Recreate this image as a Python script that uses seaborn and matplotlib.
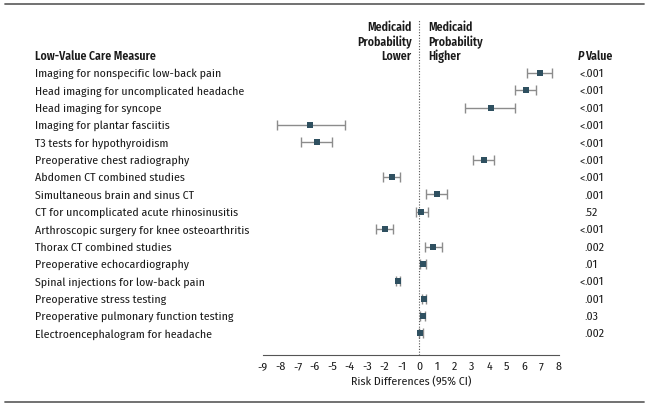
import pandas as pd
import numpy as np
import matplotlib.pyplot as plt
import seaborn as sns

# data
measures = [
    "Imaging for nonspecific low-back pain",
    "Head imaging for uncomplicated headache",
    "Head imaging for syncope",
    "Imaging for plantar fasciitis",
    "T3 tests for hypothyroidism",
    "Preoperative chest radiography",
    "Abdomen CT combined studies",
    "Simultaneous brain and sinus CT",
    "CT for uncomplicated acute rhinosinusitis",
    "Arthroscopic surgery for knee osteoarthritis",
    "Thorax CT combined studies",
    "Preoperative echocardiography",
    "Spinal injections for low-back pain",
    "Preoperative stress testing",
    "Preoperative pulmonary function testing",
    "Electroencephalogram for headache",
]
risk_diff = [6.9, 6.1, 4.1, -6.3, -5.9, 3.7, -1.6, 1.0, 0.1, -2.0, 0.8, 0.2, -1.25, 0.27, 0.18, 0.06]
ci_low = [6.2, 5.5, 2.6, -8.2, -6.8, 3.1, -2.1, 0.4, -0.2, -2.5, 0.3, 0.05, -1.35, 0.15, 0.05, -0.05]
ci_high = [7.6, 6.7, 5.5, -4.3, -5.0, 4.3, -1.1, 1.6, 0.5, -1.5, 1.3, 0.35, -1.12, 0.4, 0.3, 0.2]
p_values = ["<.001", "<.001", "<.001", "<.001", "<.001", "<.001", "<.001", ".001",
            ".52", "<.001", ".002", ".01", "<.001", ".001", ".03", ".002"]

df = pd.DataFrame({"measure": measures, "rd": risk_diff, "lo": ci_low, "hi": ci_high, "p": p_values})
df["row"] = np.arange(len(df))

sns.set_style("white")
plt.rcParams['font.family'] = ['Fira Sans Condensed', 'Roboto Condensed', 'DejaVu Sans']
plt.rcParams['font.size'] = 8.5
plt.rcParams['axes.unicode_minus'] = False
plt.rcParams['text.color'] = '#1a1a1a'
plt.rcParams['xtick.color'] = '#1a1a1a'
plt.rcParams['axes.labelcolor'] = '#1a1a1a'

W, H = 649, 410
fig = plt.figure(figsize=(W / 100, H / 100), dpi=100)

# axes placed in pixel terms of the reference
x0, x1 = 262.7, 558.7
y_top, y_bot = 20, 355.7
ax = fig.add_axes([x0 / W, 1 - y_bot / H, (x1 - x0) / W, (y_bot - y_top) / H])

row_px = 17.35
row0_px = 74
ax.set_xlim(-9, 8)
ax.set_ylim((y_bot - row0_px) / row_px, (y_top - row0_px) / row_px)

mark_col = "#2f5060"
ci_col = "#8c8c8c"
ax.hlines(df["row"], df["lo"], df["hi"], color=ci_col, lw=1)
ax.scatter(df["lo"], df["row"], marker="|", s=55, color=ci_col, lw=1)
ax.scatter(df["hi"], df["row"], marker="|", s=55, color=ci_col, lw=1)
sns.scatterplot(data=df, x="rd", y="row", marker="s", s=24, color=mark_col,
                edgecolor=mark_col, linewidth=0, ax=ax, zorder=3, legend=False)

ax.axvline(0, color="#555555", lw=0.8, ls=(0, (1, 1.5)))

sns.despine(ax=ax, left=True, top=True, right=True)
ax.spines["bottom"].set_color("#555555")
ax.spines["bottom"].set_linewidth(0.8)
ax.set_yticks([])
ax.set_xticks(range(-9, 9))
ax.tick_params(axis="x", length=3, width=0.8, color="#555555", pad=1.5)
ax.set_xlabel("Risk Differences (95% CI)", labelpad=3)
ax.set_ylabel("")

# text columns
trans = ax.get_yaxis_transform()
def fx(px):
    return (px - x0) / (x1 - x0)

bold = "semibold"
ax.text(fx(35), -1, "Low-Value Care Measure", transform=trans, ha="left", va="center",
        fontweight=bold, clip_on=False)
ax.text(fx(578), -1, "P", transform=trans, ha="left", va="center",
        fontweight=bold, fontstyle="italic", clip_on=False)
ax.text(fx(585.5), -1, "Value", transform=trans, ha="left", va="center",
        fontweight=bold, clip_on=False)
for r, m, p in zip(df["row"], df["measure"], df["p"]):
    ax.text(fx(35), r, m, transform=trans, ha="left", va="center", clip_on=False)
    if p.startswith("<"):
        ax.text(fx(584.5), r, "<", transform=trans, ha="right", va="center", clip_on=False)
        p = p[1:]
    ax.text(fx(584.5), r, p, transform=trans, ha="left", va="center", clip_on=False)

# direction headers above the zero line
line_step = 14.5 / row_px
for i, (lo_txt, hi_txt) in enumerate([("Lower", "Higher"), ("Probability", "Probability"), ("Medicaid", "Medicaid")]):
    yy = -1 - i * line_step
    ax.text(-0.44, yy, lo_txt, ha="right", va="center", fontweight=bold, clip_on=False)
    ax.text(0.48, yy, hi_txt, ha="left", va="center", fontweight=bold, clip_on=False)

# top and bottom rules
for yy in (5, 403):
    fig.add_artist(plt.Line2D([5 / W, 644 / W], [1 - yy / H, 1 - yy / H],
                              color="#666666", lw=1.3, transform=fig.transFigure))

fig.savefig("out.png", dpi=100)
